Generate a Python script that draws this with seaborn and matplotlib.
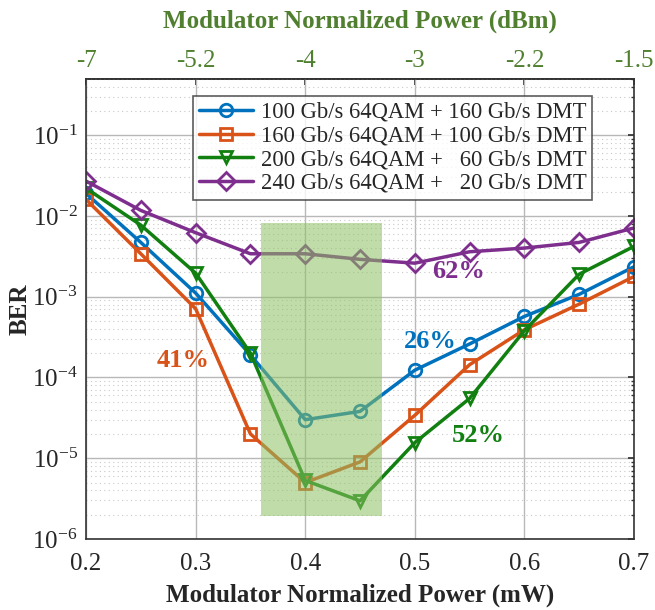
import numpy as np
import pandas as pd
import matplotlib
matplotlib.use("Agg")
import matplotlib.pyplot as plt
import seaborn as sns
from matplotlib.ticker import LogLocator, NullFormatter

# ---- data ----
power_mw = [0.2, 0.25, 0.3, 0.35, 0.4, 0.45, 0.5, 0.55, 0.6, 0.65, 0.7]
ber_100 = [1.9e-2, 4.7e-3, 1.11e-3, 1.9e-4, 3.0e-5, 3.8e-5, 1.23e-4, 2.6e-4, 5.7e-4, 1.07e-3, 2.35e-3]
ber_160 = [1.6e-2, 3.4e-3, 7.1e-4, 2.0e-5, 5.0e-6, 9.0e-6, 3.4e-5, 1.44e-4, 3.9e-4, 8.1e-4, 1.78e-3]
ber_200 = [2.2e-2, 7.7e-3, 1.96e-3, 2.0e-4, 5.3e-6, 2.97e-6, 1.56e-5, 5.5e-5, 3.8e-4, 1.9e-3, 4.2e-3]
ber_240 = [2.7e-2, 1.17e-2, 6.2e-3, 3.4e-3, 3.4e-3, 2.9e-3, 2.6e-3, 3.6e-3, 4.0e-3, 4.7e-3, 7.1e-3]
series_names = ["100 Gb/s 64QAM + 160 Gb/s DMT",
                "160 Gb/s 64QAM + 100 Gb/s DMT",
                "200 Gb/s 64QAM +   60 Gb/s DMT",
                "240 Gb/s 64QAM +   20 Gb/s DMT"]
top_tick_pos = [0.2, 0.3, 0.4, 0.5, 0.6, 0.7]
top_tick_labels = ["-7", "-5.2", "-4", "-3", "-2.2", "-1.5"]
pct_labels = ["26%", "41%", "52%", "62%"]

colors = ["#0072BD", "#D95319", "#118011", "#7E2F8E"]
markers = ["o", "s", "v", "D"]

df = pd.concat([
    pd.DataFrame({"x": power_mw, "ber": b, "series": n})
    for b, n in zip([ber_100, ber_160, ber_200, ber_240], series_names)
])

sns.set_theme(style="white")
plt.rcParams["font.family"] = ["Liberation Serif", "DejaVu Serif"]
plt.rcParams["mathtext.fontset"] = "stix"

fig = plt.figure(figsize=(6.55, 6.10), dpi=100)
ax = fig.add_axes([0.1313, 0.1164, 0.8367, 0.7546])

sns.lineplot(data=df, x="x", y="ber", hue="series", style="series",
             hue_order=series_names, style_order=series_names,
             palette=dict(zip(series_names, colors)),
             markers=dict(zip(series_names, markers)),
             dashes=False, lw=2.5, markersize=9,
             ax=ax, legend=True)
# hollow markers with coloured edges
for line in ax.get_lines():
    c = line.get_color()
    line.set_markerfacecolor("none")
    line.set_markeredgecolor(c)
    line.set_markeredgewidth(2)

ax.set_yscale("log")
ax.set_xlim(0.2, 0.7)
ax.set_ylim(1e-6, 0.5)

# shaded region
ax.fill_between([0.36, 0.47], 1.9e-6, 8.2e-3, color="#8cc063", alpha=0.55,
                lw=0, zorder=5)

# grids
ax.set_xticks(top_tick_pos)
ax.yaxis.set_major_locator(LogLocator(base=10, numticks=10))
ax.yaxis.set_minor_locator(LogLocator(base=10, subs=np.arange(2, 10), numticks=20))
ax.yaxis.set_minor_formatter(NullFormatter())
ax.grid(True, which="major", color="#b8b8b8", lw=1.0)
ax.grid(True, which="minor", axis="y", color="#c8c8c8", lw=0.8, ls=(0, (1, 3)))
ax.set_axisbelow(True)

ax.tick_params(axis="both", which="both", direction="in", top=False, right=True,
               labelsize=18, length=4, color="#333333")
ax.tick_params(axis="y", which="minor", length=2.5)
ax.tick_params(axis="x", pad=10)
ax.tick_params(axis="y", pad=6)
for s in ax.spines.values():
    s.set_color("#333333")
    s.set_linewidth(1.2)

ax.set_xlabel("Modulator Normalized Power (mW)", fontsize=18, fontweight="bold", labelpad=6)
ax.set_ylabel("BER", fontsize=18, fontweight="bold", labelpad=0)

# top axis
green = "#4f7f2f"
sec = ax.secondary_xaxis("top")
sec.set_xticks(top_tick_pos)
sec.set_xticklabels(top_tick_labels)
sec.tick_params(direction="in", labelsize=18, labelcolor=green, length=4, pad=5)
sec.set_xlabel("Modulator Normalized Power (dBm)", fontsize=18, fontweight="bold",
               color=green, labelpad=16)

# annotations
ann_x = [0.514, 0.2885, 0.558, 0.540]
ann_y = [2.76e-4, 1.6e-4, 1.9e-5, 2.04e-3]
for t, xx, yy, c in zip(pct_labels, ann_x, ann_y, colors):
    ax.text(xx, yy, t, color=c, fontsize=19, fontweight="bold", ha="center",
            va="center", zorder=7)

leg = ax.legend(loc="upper left", bbox_to_anchor=(0.195, 0.962), fontsize=16.3,
                frameon=True, fancybox=False, edgecolor="#333333",
                handlelength=2.4, handletextpad=0.35, borderpad=0.25,
                labelspacing=0.12, borderaxespad=0)
leg.get_frame().set_linewidth(1.2)
leg.set_zorder(10)
for h in leg.legend_handles:
    c = h.get_color()
    h.set_markerfacecolor("none")
    h.set_markeredgecolor(c)
    h.set_markeredgewidth(2)
    h.set_linewidth(2.5)

fig.savefig("out.png", dpi=100)
